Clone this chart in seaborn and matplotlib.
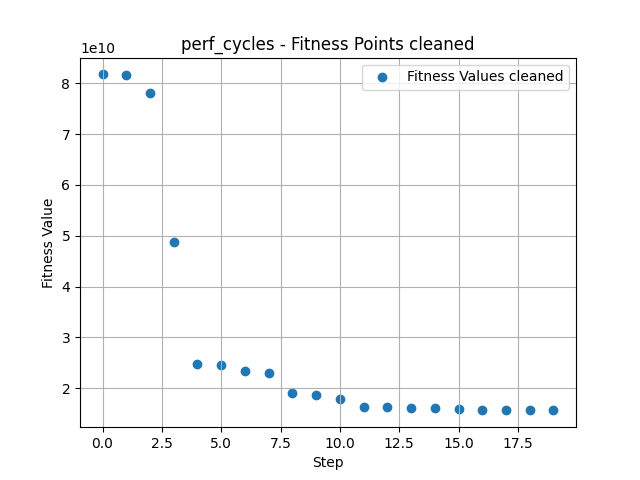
import numpy as np
import pandas as pd
import matplotlib
matplotlib.use("Agg")
import matplotlib.pyplot as plt
import seaborn as sns

# data
steps = list(range(20))
fitness = [8.177e10, 8.158e10, 7.803e10, 4.869e10, 2.466e10, 2.446e10, 2.328e10,
           2.289e10, 1.895e10, 1.856e10, 1.777e10, 1.632e10, 1.619e10, 1.600e10,
           1.600e10, 1.580e10, 1.560e10, 1.560e10, 1.560e10, 1.560e10]

df = pd.DataFrame({"Step": steps, "Fitness Value": fitness})

fig, ax = plt.subplots(figsize=(6.4, 4.8), dpi=100)
sns.scatterplot(data=df, x="Step", y="Fitness Value", ax=ax, s=36,
                color="#1f77b4", edgecolor="#1f77b4", linewidth=1.0,
                label="Fitness Values cleaned")

ax.set_title("perf_cycles - Fitness Points cleaned")
ax.set_xlabel("Step")
ax.set_ylabel("Fitness Value")
ax.grid(True)
ax.legend(loc="upper right")

plt.savefig("out.png", dpi=100)
